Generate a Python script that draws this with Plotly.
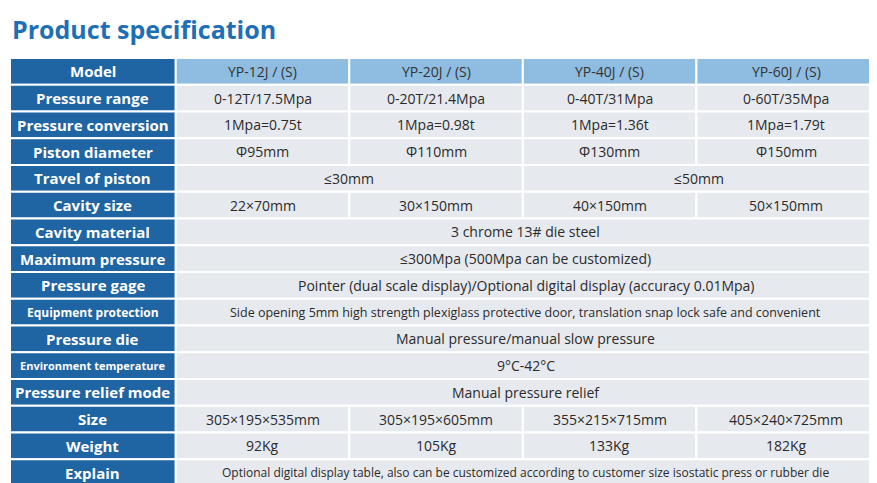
import plotly.graph_objects as go

title = "Product specification"
models = ["YP-12J / (S)", "YP-20J / (S)", "YP-40J / (S)", "YP-60J / (S)"]
row_labels = ["Pressure range", "Pressure conversion", "Piston diameter", "Travel of piston",
              "Cavity size", "Cavity material", "Maximum pressure", "Pressure gage",
              "Equipment protection", "Pressure die", "Environment temperature",
              "Pressure relief mode", "Size", "Weight", "Explain"]
# each row: list of (text, column span)
row_values = [
    [("0-12T/17.5Mpa", 1), ("0-20T/21.4Mpa", 1), ("0-40T/31Mpa", 1), ("0-60T/35Mpa", 1)],
    [("1Mpa=0.75t", 1), ("1Mpa=0.98t", 1), ("1Mpa=1.36t", 1), ("1Mpa=1.79t", 1)],
    [("Φ95mm", 1), ("Φ110mm", 1), ("Φ130mm", 1), ("Φ150mm", 1)],
    [("≤30mm", 2), ("≤50mm", 2)],
    [("22×70mm", 1), ("30×150mm", 1), ("40×150mm", 1), ("50×150mm", 1)],
    [("3 chrome 13# die steel", 4)],
    [("≤300Mpa (500Mpa can be customized)", 4)],
    [("Pointer (dual scale display)/Optional digital display (accuracy 0.01Mpa)", 4)],
    [("Side opening 5mm high strength plexiglass protective door, translation snap lock safe and convenient", 4)],
    [("Manual pressure/manual slow pressure", 4)],
    [("9°C-42°C", 4)],
    [("Manual pressure relief", 4)],
    [("305×195×535mm", 1), ("305×195×605mm", 1), ("355×215×715mm", 1), ("405×240×725mm", 1)],
    [("92Kg", 1), ("105Kg", 1), ("133Kg", 1), ("182Kg", 1)],
    [("Optional digital display table, also can be customized according to customer size isostatic press or rubber die", 4)],
]
label_sizes = {"Equipment protection": 12, "Environment temperature": 11}
value_sizes = {9: 12.5, 15: 12}

# column edges in data units: label column is slightly narrower
col_edges = [0, 0.955, 1.955, 2.955, 3.955, 4.99]

fig = go.Figure()
shapes = []
anns = []

def cell(x0, x1, r, fill, text, color, size, bold=False):
    shapes.append(dict(type="rect", x0=x0, x1=x1, y0=r, y1=r + 1, xref="x", yref="y",
                       fillcolor=fill, line=dict(color="white", width=2), layer="below"))
    anns.append(dict(x=(x0 + x1) / 2, y=r + 0.5, xref="x", yref="y", showarrow=False,
                     text=f"<b>{text}</b>" if bold else text,
                     font=dict(color=color, size=size, family="Open Sans")))

blue = "#1f64a3"
light = "#e6e9ee"
cell(col_edges[0], col_edges[1], 0, blue, "Model", "white", 15, True)
for i, m in enumerate(models):
    cell(col_edges[i + 1], col_edges[i + 2], 0, "#8fbde1", m, "#333333", 14)

for r, (lab, vals) in enumerate(zip(row_labels, row_values), start=1):
    cell(col_edges[0], col_edges[1], r, blue, lab, "white", label_sizes.get(lab, 15), True)
    c = 1
    for txt, span in vals:
        cell(col_edges[c], col_edges[c + span], r, light, txt, "#2b2b2b", value_sizes.get(r, 14))
        c += span

anns.append(dict(x=0.0, y=1.0, xref="paper", yref="paper", xanchor="left", yanchor="bottom",
                 yshift=10, showarrow=False, text=f"<b>{title}</b>",
                 font=dict(size=25, color="#1f6fb5", family="Open Sans")))

fig.add_trace(go.Scatter(x=[0, 4.99], y=[0, 16], mode="markers", marker=dict(opacity=0),
                         hoverinfo="skip", showlegend=False))
fig.update_layout(
    width=877, height=483, margin=dict(l=2, r=9, t=50, b=5), autosize=False,
    paper_bgcolor="white", plot_bgcolor="white",
    shapes=shapes, annotations=anns,
    xaxis=dict(range=[0, 4.99], visible=False, fixedrange=True, automargin=False),
    yaxis=dict(range=[16, 0], visible=False, fixedrange=True, automargin=False),
)
fig.write_html("out.html")
